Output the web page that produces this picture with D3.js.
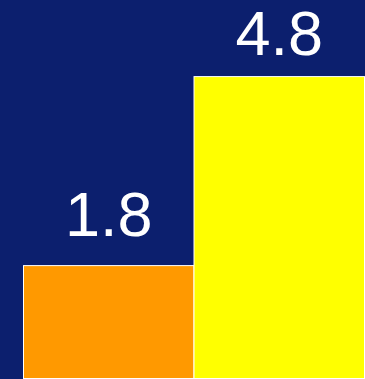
<!DOCTYPE html>
<html>
<head>
<meta charset="utf-8">
<script src="https://cdn.jsdelivr.net/npm/d3@7"></script>
<style>
  html, body { margin: 0; padding: 0; background: #0c1f6e; }
  svg { display: block; }
</style>
</head>
<body>
<div id="chart"></div>
<script>
// chart data
const categories = ["A", "B"];
const values = [1.8, 4.8];
const barColors = ["#ff9900", "#ffff00"];

const width = 365, height = 379;
const margin = {top: 0, right: 0.5, bottom: 0.5, left: 23.5};

const svg = d3.select("#chart").append("svg")
    .attr("width", width)
    .attr("height", height);

svg.append("rect")
    .attr("width", width)
    .attr("height", height)
    .attr("fill", "#0c1f6e");

const x = d3.scaleBand()
    .domain(categories)
    .range([margin.left, width - margin.right])
    .padding(0);

// 63px per unit, zero at the bottom edge
const y = d3.scaleLinear()
    .domain([0, 6])
    .range([height - margin.bottom + 0.5, height - margin.bottom + 0.5 - 6 * 63]);

svg.selectAll(".bar")
    .data(values)
    .enter().append("rect")
    .attr("class", "bar")
    .attr("x", (d, i) => x(categories[i]))
    .attr("y", d => y(d))
    .attr("width", x.bandwidth())
    .attr("height", d => y(0) - y(d) - 0.5)
    .attr("fill", (d, i) => barColors[i])
    .attr("stroke", "#ffffff")
    .attr("stroke-width", 1);

// value labels, kept inside the top of the picture
const fontSize = 63;
svg.selectAll(".label")
    .data(values)
    .enter().append("text")
    .attr("class", "label")
    .attr("x", (d, i) => x(categories[i]) + x.bandwidth() / 2)
    .attr("y", d => Math.max(y(d) - 29.5, 55))
    .attr("text-anchor", "middle")
    .attr("fill", "#ffffff")
    .style("font-family", "'Liberation Sans', Arial, sans-serif")
    .style("font-size", fontSize + "px")
    .text(d => d.toFixed(1));
</script>
</body>
</html>
